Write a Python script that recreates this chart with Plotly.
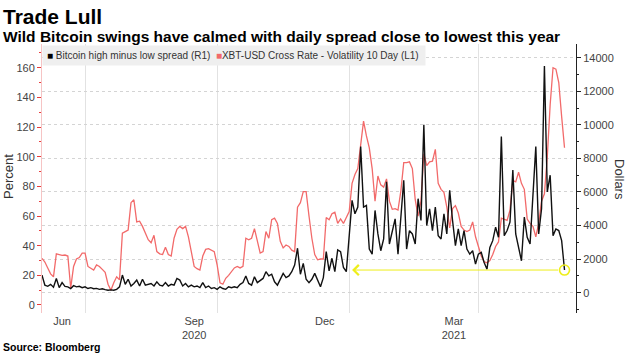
import pandas as pd
import plotly.graph_objects as go

# ---- data (every 2 days, Jun 1 2020 -> May 31 2021) ----
start_date = "2020-06-01"
n_points = 183
step = "2D"

vol_pct = [
    31.5, 29, 25, 21, 19, 34.5, 34, 33.5, 33.7, 33,
    11.5, 26, 31, 32, 35, 35, 26, 24.5, 23.5, 27,
    26, 24, 22, 14, 10, 15, 19, 17, 48.5, 49.5,
    50.5, 69, 71, 56, 56.5, 53, 49, 44, 42, 47,
    36, 34.5, 34, 39, 34, 33, 45, 51, 53, 51.5,
    53, 46, 36, 26, 24.5, 23.5, 33, 37.5, 38, 37,
    36, 27, 15, 14, 18, 20, 22.5, 25, 26, 25,
    26, 45, 44, 45, 51.5, 43, 35, 36, 49.5, 45,
    57.5, 58.5, 55, 43, 38.5, 40.5, 39.5, 37, 36, 66,
    69, 76.5, 76.5, 60, 45, 34, 30.5, 31, 31, 59,
    57.5, 61.5, 62.5, 55, 58, 55, 59, 63, 82, 88,
    92, 110, 124, 114, 106, 92, 70, 87, 81, 79.5,
    85, 70, 64.5, 65, 64, 77, 96, 96, 96.5, 92,
    71, 60, 70, 102, 94, 96.5, 97, 105, 82, 78,
    76, 66, 52, 65, 67, 62, 53, 50.5, 49.5, 50.5,
    56, 46, 38.5, 33, 29, 28.5, 30, 34, 39.5, 42.5,
    58.5, 58, 57, 64, 84, 83, 89.5, 82, 78, 58,
    55, 53, 46, 55, 70, 75, 100, 135, 160, 159,
    150, 127, 106,
]

spread_usd = [
    1050, 450, 380, 500, 330, 850, 300, 600, 380, 350,
    250, 420, 350, 380, 300, 350, 250, 300, 240, 260,
    200, 230, 180, 150, 170, 150, 200, 350, 1050, 500,
    800, 400, 550, 750, 400, 800, 450, 500, 550, 400,
    650, 450, 400, 600, 400, 500, 450, 850, 750, 400,
    550, 350, 450, 350, 400, 300, 600, 300, 400, 250,
    300, 200, 350, 250, 200, 350, 300, 350, 300, 500,
    600, 1000, 550, 450, 950, 600, 700, 850, 1250, 1000,
    1100, 650, 450, 800, 1150, 900, 1000, 1250, 1650, 2650,
    1100, 1750, 800, 600, 800, 1150, 700, 350, 900, 2450,
    1300, 2050, 1250, 2550, 2450, 1500, 1250, 3300, 5500, 4700,
    5100, 8700, 5100, 5200, 2600, 2300, 4900, 3500, 2500, 3200,
    6600, 2900, 3600, 4400, 2300, 4300, 6700, 2600, 3700, 3500,
    2900, 5600, 4300, 10000, 4000, 5000, 3700, 5100, 3400, 3200,
    4700, 3500, 6100, 4300, 2800, 3800, 2800, 3700, 2600, 2300,
    2500, 1700, 2300, 2400, 1800, 1400, 2700, 3100, 3900, 3300,
    9300, 3400, 3700, 4200, 7300, 3500, 2700, 1900, 4500, 3300,
    2900, 5800, 8700, 3500, 5000, 13500, 6000, 7000, 3400, 3800,
    3700, 3100, 1350,
]

tick_dates = ["2020-06-15", "2020-09-15", "2020-12-15", "2021-03-15"]
tick_labels = ["Jun", "Sep<br>2020", "Dec", "Mar<br>2021"]
grid_dates = ["2020-07-01", "2020-10-01", "2021-01-01", "2021-04-01"]
x_range = ["2020-06-01", "2021-06-08"]
arrow_tip_date = "2021-01-03"

dates = pd.date_range(start_date, periods=n_points, freq=step)

RED = "#f26a6a"
YELLOW = "#eeee1a"
FONT = "Liberation Sans"

fig = go.Figure()
fig.add_trace(go.Scatter(
    x=dates, y=vol_pct, mode="lines", yaxis="y",
    line=dict(color=RED, width=1.3), showlegend=False,
    name="XBT-USD Cross Rate - Volatility 10 Day (L1)"))
fig.add_trace(go.Scatter(
    x=dates, y=spread_usd, mode="lines", yaxis="y2",
    line=dict(color="#111111", width=1.4), showlegend=False,
    name="Bitcoin high minus low spread (R1)"))
fig.add_trace(go.Scatter(
    x=[dates[-1]], y=[spread_usd[-1]], mode="markers", yaxis="y2",
    marker=dict(symbol="circle-open", size=10, color=YELLOW,
                line=dict(color=YELLOW, width=1.6)),
    showlegend=False, hoverinfo="skip"))

L, R, T, B = 42, 54, 44, 41
W, H = 630, 354
pw, ph = W - L - R, H - T - B

def px_x(p):
    return (p - L) / pw

def px_y(p):
    return (H - B - p) / ph

annotations = [
    dict(text="<b>Trade Lull</b>", xref="paper", yref="paper",
         x=px_x(1), y=px_y(3), xanchor="left", yanchor="top",
         showarrow=False, font=dict(family=FONT, size=21, color="#000")),
    dict(text="<b>Wild Bitcoin swings have calmed with daily spread close to lowest this year</b>",
         xref="paper", yref="paper", x=px_x(1), y=px_y(26),
         xanchor="left", yanchor="top", showarrow=False,
         font=dict(family=FONT, size=15.5, color="#000")),
    dict(text="<b>Source: Bloomberg</b>", xref="paper", yref="paper",
         x=px_x(1), y=px_y(347), xanchor="left", yanchor="middle",
         showarrow=False, font=dict(family=FONT, size=10.5, color="#000")),
    dict(text="Percent", xref="paper", yref="paper", x=px_x(8), y=px_y(177),
         xanchor="center", yanchor="middle", textangle=-90, showarrow=False,
         font=dict(family=FONT, size=13, color="#333")),
    dict(text="Dollars", xref="paper", yref="paper", x=px_x(620), y=px_y(179),
         xanchor="center", yanchor="middle", textangle=90, showarrow=False,
         font=dict(family=FONT, size=13, color="#333")),
    dict(text=('<span style="color:#000">■</span> Bitcoin high minus low spread (R1)  '
               '<span style="color:%s">■</span>XBT-USD Cross Rate - Volatility 10 Day (L1) ' % RED),
         xref="paper", yref="paper", x=0, y=px_y(45), xanchor="left", yanchor="top",
         showarrow=False, bgcolor="#efefef", borderpad=4,
         font=dict(family=FONT, size=10, color="#333")),
    dict(text="", x=arrow_tip_date, y=spread_usd[-1], xref="x", yref="y2",
         ax=dates[-1], ay=spread_usd[-1], axref="x", ayref="y2",
         showarrow=True, arrowhead=4, arrowsize=2, arrowwidth=1,
         arrowcolor=YELLOW, standoff=0, startstandoff=5),
]

fig.update_layout(
    width=W, height=H,
    margin=dict(l=L, r=R, t=T, b=B),
    paper_bgcolor="white", plot_bgcolor="white",
    showlegend=False,
    font=dict(family=FONT, size=11, color="#444"),
    xaxis=dict(type="date", range=x_range, tickmode="array",
               tickvals=tick_dates, ticktext=tick_labels, ticks="",
               showgrid=False, showline=False, zeroline=False,
               tickfont=dict(size=11, color="#444"),
               minor=dict(tickmode="array", tickvals=grid_dates, showgrid=True,
                          gridcolor="#e2e2e2", gridwidth=1, ticks="")),
    yaxis=dict(range=[-5.4, 176], tickmode="array",
               tickvals=[0, 20, 40, 60, 80, 100, 120, 140, 160],
               ticks="outside", ticklen=4, tickcolor="#e83c3c",
               showline=True, linecolor="#f6c4c4", linewidth=1,
               showgrid=False, zeroline=False,
               tickfont=dict(size=11, color="#444"),
               minor=dict(dtick=10, ticks="outside", ticklen=2,
                          tickcolor="#e83c3c", showgrid=False)),
    yaxis2=dict(overlaying="y", side="right", range=[-1209, 14813],
                tick0=0, dtick=2000, tickformat="d", ticks="outside", ticklen=4,
                tickcolor="#222", showline=True, linecolor="#222", linewidth=1,
                showgrid=True, gridcolor="#d4d4d4", griddash="dot", gridwidth=1,
                zeroline=False, tickfont=dict(size=11, color="#444"),
                minor=dict(dtick=1000, ticks="outside", ticklen=2,
                           tickcolor="#222", showgrid=False)),
    annotations=annotations,
)

fig.write_html("out.html")
